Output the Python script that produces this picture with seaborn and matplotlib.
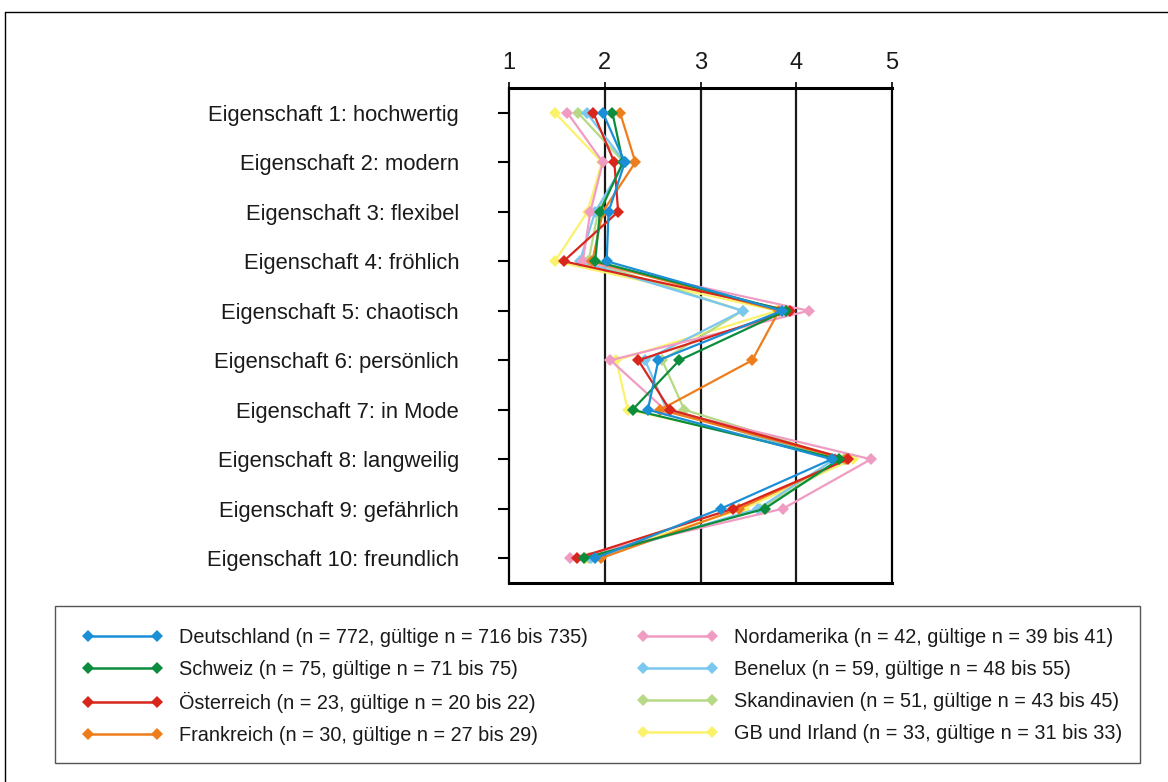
import matplotlib
matplotlib.use("Agg")
import matplotlib.pyplot as plt
from matplotlib.lines import Line2D
from matplotlib.patches import Rectangle
import seaborn as sns
import pandas as pd

sns.set_theme(style="white")
plt.rcParams["font.family"] = ["Liberation Sans", "DejaVu Sans"]
plt.rcParams["text.color"] = "#1a1a1a"
plt.rcParams["xtick.color"] = "#1a1a1a"
plt.rcParams["ytick.color"] = "#1a1a1a"

# Properties rated on a 1..5 scale
eigenschaften = [
    "Eigenschaft 1: hochwertig",
    "Eigenschaft 2: modern",
    "Eigenschaft 3: flexibel",
    "Eigenschaft 4: fröhlich",
    "Eigenschaft 5: chaotisch",
    "Eigenschaft 6: persönlich",
    "Eigenschaft 7: in Mode",
    "Eigenschaft 8: langweilig",
    "Eigenschaft 9: gefährlich",
    "Eigenschaft 10: freundlich",
]

# Mean ratings per region
deutschland = [1.98, 2.21, 2.04, 2.02, 3.85, 2.56, 2.45, 4.37, 3.21, 1.90]
schweiz = [2.08, 2.19, 1.95, 1.90, 3.89, 2.78, 2.29, 4.45, 3.67, 1.78]
oesterreich = [1.88, 2.10, 2.14, 1.57, 3.93, 2.35, 2.68, 4.54, 3.34, 1.71]
frankreich = [2.16, 2.32, 1.98, 1.87, 3.82, 3.54, 2.58, 4.52, 3.40, 1.96]
nordamerika = [1.61, 1.98, 1.85, 1.77, 4.13, 2.06, 2.63, 4.78, 3.86, 1.64]
benelux = [1.81, 2.21, 1.90, 1.74, 3.44, 2.42, 2.65, 4.40, 3.60, 1.86]
skandinavien = [1.72, 2.20, 1.93, 1.83, 3.44, 2.60, 2.83, 4.50, 3.62, 1.84]
gb_irland = [1.48, 1.97, 1.82, 1.48, 3.80, 2.12, 2.24, 4.59, 3.45, 1.80]

regionen = [
    "Deutschland (n = 772, gültige n = 716 bis 735)",
    "Schweiz (n = 75, gültige n = 71 bis 75)",
    "Österreich (n = 23, gültige n = 20 bis 22)",
    "Frankreich (n = 30, gültige n = 27 bis 29)",
    "Nordamerika (n = 42, gültige n = 39 bis 41)",
    "Benelux (n = 59, gültige n = 48 bis 55)",
    "Skandinavien (n = 51, gültige n = 43 bis 45)",
    "GB und Irland (n = 33, gültige n = 31 bis 33)",
]
werte = [deutschland, schweiz, oesterreich, frankreich,
         nordamerika, benelux, skandinavien, gb_irland]
farben = ["#1b8fd6", "#0b8d3d", "#d8261d", "#ee7d1b",
          "#f09cc2", "#7ac7ef", "#b6d985", "#fbf26c"]

rows = []
for reg, vals in zip(regionen, werte):
    for i, v in enumerate(vals):
        rows.append({"Region": reg, "Pos": i, "Wert": v})
df = pd.DataFrame(rows)

fig = plt.figure(figsize=(11.68, 7.82), dpi=100)
ax = fig.add_axes([509 / 1168, 1 - 583 / 782, (892 - 509) / 1168, (583 - 88) / 782])

palette = dict(zip(regionen, farben))
# draw later regions first so that Deutschland ends up on top
sns.lineplot(data=df, x="Wert", y="Pos", hue="Region", hue_order=regionen[::-1],
             palette=palette, orient="y", sort=False, estimator=None,
             marker="D", markersize=6.5, markeredgewidth=0, linewidth=1.6,
             ax=ax, legend=False)

ax.set_xlim(1, 5)
ax.set_ylim(9.5, -0.5)
ax.set_xticks([1, 2, 3, 4, 5])
ax.set_yticks(range(len(eigenschaften)))
ax.set_yticklabels(eigenschaften)
ax.set_xlabel("")
ax.set_ylabel("")
ax.xaxis.tick_top()
ax.tick_params(axis="x", top=True, bottom=False, direction="out", length=4,
               width=1.2, color="black", labelsize=17, pad=6)
ax.tick_params(axis="y", left=True, direction="out", length=8, width=1.5,
               color="black", labelsize=15.8, pad=28)
for lab in ax.get_yticklabels():
    lab.set_horizontalalignment("right")

for sp in ["top", "bottom"]:
    ax.spines[sp].set_linewidth(2.2)
    ax.spines[sp].set_color("black")
for sp in ["left", "right"]:
    ax.spines[sp].set_linewidth(1.6)
    ax.spines[sp].set_color("black")
for gx in [2, 3, 4]:
    ax.axvline(gx, color="#1a1a1a", lw=1.6, zorder=0)

# outer frame of the figure (top and left edge)
fig.add_artist(Line2D([5 / 1168, 1.0], [1 - 12 / 782, 1 - 12 / 782],
                      transform=fig.transFigure, color="black", lw=1))
fig.add_artist(Line2D([5 / 1168, 5 / 1168], [1 - 12 / 782, 0.0],
                      transform=fig.transFigure, color="black", lw=1))

# legend box
fig.add_artist(Rectangle((55 / 1168, 1 - 763 / 782), (1140 - 55) / 1168,
                         (763 - 606) / 782, transform=fig.transFigure,
                         fill=False, ec="#555555", lw=1))
handles = [Line2D([0], [0], color=c, lw=1.8, marker="D", markersize=6,
                  markeredgewidth=0) for c in farben]
fig.legend(handles, regionen, ncol=2, frameon=False, loc="upper left",
           bbox_to_anchor=(82 / 1168, 1 - 628 / 782), borderaxespad=0,
           borderpad=0, fontsize=14.3, handlelength=4.1, handletextpad=0.8,
           labelspacing=0.66, columnspacing=2.45, numpoints=2)

fig.savefig("out.png", dpi=100, facecolor="white")
